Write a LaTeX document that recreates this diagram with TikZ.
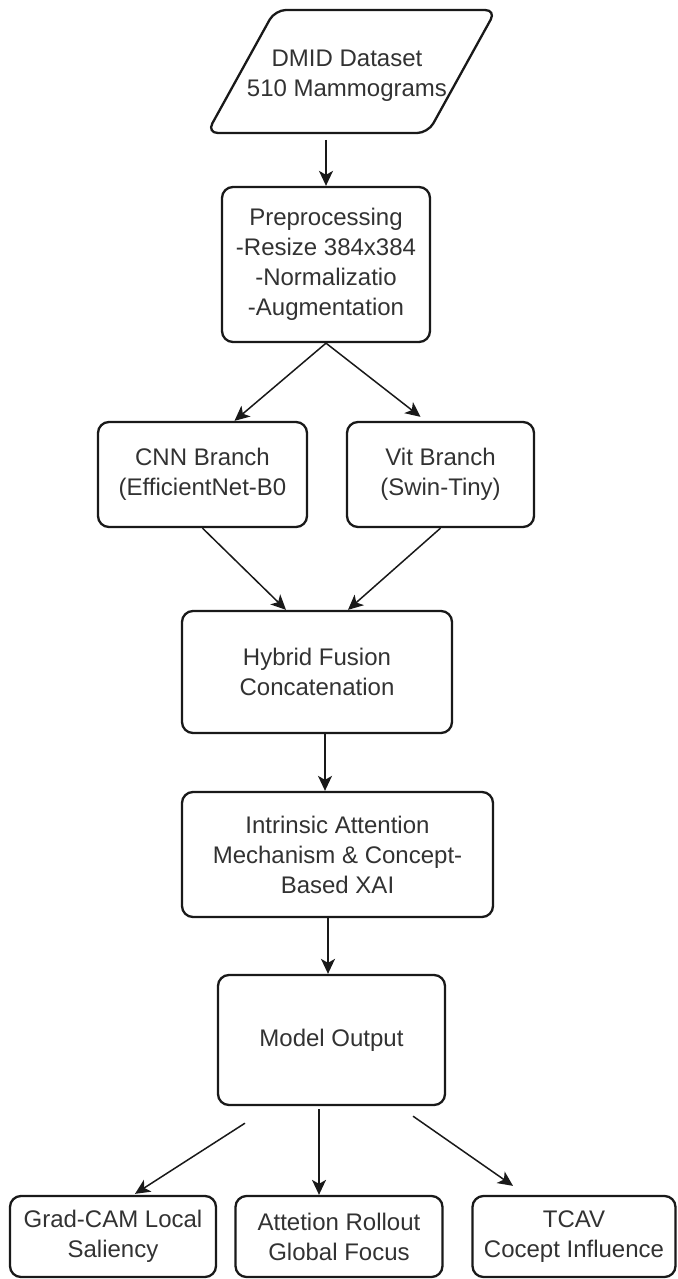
\documentclass[tikz,border=0pt]{standalone}
\usepackage{fontspec}
\setmainfont{Liberation Sans}
\usepackage{tikz}
\usetikzlibrary{arrows.meta,calc}
\definecolor{boxline}{RGB}{25,25,25}
\definecolor{boxtext}{RGB}{50,50,50}
\tikzset{
    stage/.style={rectangle, rounded corners=11pt, draw=boxline, line width=2.3pt, align=center, inner sep=0pt, text=boxtext, font=\fontsize{24}{30}\selectfont},
    datatxt/.style={align=center, inner sep=0pt, text=boxtext, font=\fontsize{24}{30}\selectfont},
    flow/.style={line width=1.5pt, boxline, -{Stealth[length=15pt,width=14pt,inset=4pt]}},
}

\begin{document}
\begin{tikzpicture}[x=1pt, y=-1pt]
    \useasboundingbox (0,0) rectangle (677,1279);
    % Input data (parallelogram)
    \draw[boxline, line width=2.3pt, rounded corners=11pt] (207,133) -- (275,10) -- (496,10) -- (428,133) -- cycle;
    \node[datatxt] (data) at (347,75.5) {DMID Dataset\\510 Mammograms};
    \coordinate (databot) at (326,140);
    \node[stage, minimum width=208pt, minimum height=155pt] (pre) at (326,264.5) {Preprocessing\\-Resize 384x384\\-Normalizatio\\-Augmentation};
    % Two branches
    \node[stage, minimum width=209pt, minimum height=105pt] (cnn) at (202.5,474.5) {CNN Branch\\(EfficientNet-B0};
    \node[stage, minimum width=187pt, minimum height=105pt] (vit) at (440.5,474.5) {Vit Branch\\(Swin-Tiny)};
    \node[stage, minimum width=270pt, minimum height=122pt] (fusion) at (317,672) {Hybrid Fusion\\Concatenation};
    \node[stage, minimum width=311pt, minimum height=125pt] (xai) at (337.5,854.5) {Intrinsic Attention\\Mechanism \& Concept-\\Based XAI};
    \node[stage, minimum width=227pt, minimum height=130pt] (out) at (331.5,1040) {Model Output};
    % Explanations
    \node[stage, minimum width=206pt, minimum height=81pt] (gradcam) at (113,1236.5) {Grad-CAM Local\\Saliency};
    \node[stage, minimum width=207pt, minimum height=81pt] (rollout) at (339,1236.5) {Attetion Rollout\\Global Focus};
    \node[stage, minimum width=203pt, minimum height=81pt] (tcav) at (574,1236.5) {TCAV\\Cocept Influence};

    \draw[flow] (databot) -- (pre.north);
    \draw[flow] (pre.south) -- ([xshift=32pt]cnn.north);
    \draw[flow] (pre.south) -- ([xshift=-20pt,yshift=4pt]vit.north);
    \draw[flow] (cnn.south) -- ([xshift=-31pt]fusion.north);
    \draw[flow] (vit.south) -- ([xshift=31pt]fusion.north);
    \draw[flow] ([xshift=8pt]fusion.south) -- ([xshift=-12.5pt]xai.north);
    \draw[flow] ([xshift=-9.5pt]xai.south) -- ([xshift=-3.5pt]out.north);
    \draw[flow] ($(out.south)+(-86.5,17)$) -- ($(gradcam.north)+(22,-1)$);
    \draw[flow] ($(out.south)+(-12.5,3)$) -- ([xshift=-20pt]rollout.north);
    \draw[flow] ($(out.south)+(81.5,10)$) -- ($(tcav.north)+(-61,-9)$);
\end{tikzpicture}
\end{document}
